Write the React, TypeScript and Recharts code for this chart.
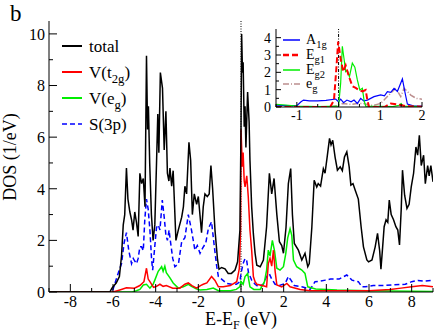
import React from "react";
import { LineChart, Line, XAxis, YAxis, ReferenceLine, Legend } from "recharts";

type Pt = [number, number];

// main panel: energy (eV) vs DOS (1/eV)
const total: Pt[] = [
  [-9, 0], [-6.15, 0], [-6.05, 0.15], [-5.85, 0.35], [-5.7, 0.6], [-5.6, 1.4], [-5.52, 2.6], [-5.45, 3.0],
  [-5.37, 4.8], [-5.3, 3.6], [-5.21, 3.1], [-5.13, 2.8], [-5.06, 2.4], [-4.98, 3.1], [-4.9, 2.7], [-4.82, 2.15],
  [-4.74, 4.6], [-4.66, 4.2], [-4.58, 4.4], [-4.5, 3.3], [-4.43, 9.15], [-4.38, 6.3], [-4.34, 7.2], [-4.28, 5.0],
  [-4.2, 3.0], [-4.12, 2.0], [-4.04, 2.6], [-3.96, 5.0], [-3.9, 6.9], [-3.85, 5.4], [-3.78, 8.5], [-3.68, 7.9],
  [-3.6, 5.5], [-3.52, 7.0], [-3.45, 4.6], [-3.38, 4.3], [-3.33, 4.8], [-3.25, 4.1], [-3.18, 4.7], [-3.05, 2.0],
  [-2.94, 2.4], [-2.78, 2.9], [-2.7, 3.3], [-2.63, 4.1], [-2.55, 3.8], [-2.44, 5.8], [-2.36, 5.1], [-2.28, 3.0],
  [-2.19, 3.8], [-2.08, 3.4], [-2.0, 3.7], [-1.85, 2.3], [-1.77, 3.3], [-1.69, 3.8], [-1.58, 3.7], [-1.49, 3.8],
  [-1.41, 4.9], [-1.33, 4.0], [-1.22, 2.4], [-1.1, 1.25], [-1.03, 0.88], [-0.91, 0.95], [-0.75, 0.9], [-0.6, 0.72],
  [-0.45, 0.72], [-0.28, 0.85], [-0.16, 1.17], [-0.05, 2.4], [0.0, 6.3], [0.03, 10.0], [0.07, 8.5], [0.1, 8.9],
  [0.15, 6.4], [0.19, 7.2], [0.23, 5.6], [0.31, 7.75], [0.38, 6.6], [0.42, 5.1], [0.5, 3.3], [0.58, 2.25],
  [0.66, 1.5], [0.74, 1.04], [0.9, 0.98], [1.05, 1.24], [1.2, 2.53], [1.33, 4.6], [1.44, 3.8], [1.55, 4.4],
  [1.68, 3.0], [1.8, 1.95], [1.91, 1.8], [1.99, 1.5], [2.11, 2.5], [2.22, 4.2], [2.33, 4.78], [2.41, 3.0],
  [2.5, 1.88], [2.69, 1.62], [2.85, 1.24], [3.0, 1.5], [3.13, 0.98], [3.2, 1.1], [3.32, 2.5], [3.43, 4.33],
  [3.55, 4.07], [3.62, 4.2], [3.73, 4.1], [3.86, 4.78], [3.94, 4.6], [4.05, 5.3], [4.15, 5.95], [4.22, 5.7],
  [4.3, 5.88], [4.41, 5.23], [4.52, 4.72], [4.65, 4.85], [4.75, 4.7], [4.85, 5.23], [4.96, 5.43], [5.07, 4.85],
  [5.15, 4.14], [5.25, 4.2], [5.35, 3.95], [5.5, 3.6], [5.63, 2.53], [5.74, 1.75], [5.9, 1.24], [5.98, 1.17],
  [6.14, 1.24], [6.29, 1.75], [6.4, 2.27], [6.5, 1.6], [6.56, 0.88], [6.64, 1.75], [6.71, 2.53], [6.8, 2.8],
  [6.88, 2.7], [6.95, 3.56], [7.04, 3.0], [7.15, 2.8], [7.26, 2.53], [7.35, 2.4], [7.43, 1.82], [7.51, 3.2],
  [7.57, 4.72], [7.67, 3.75], [7.78, 3.24], [7.88, 3.4], [7.98, 4.07], [8.09, 4.6], [8.2, 5.62], [8.28, 5.3],
  [8.36, 6.07], [8.45, 4.9], [8.56, 5.3], [8.64, 4.2], [8.75, 4.9], [8.82, 4.5], [8.9, 4.9], [9.0, 4.27],
];

const vT2g: Pt[] = [
  [-9, 0], [-6.0, 0], [-5.68, 0.08], [-5.37, 0.16], [-5.0, 0.15], [-4.74, 0.25], [-4.55, 0.4], [-4.43, 0.92],
  [-4.35, 0.5], [-4.27, 0.4], [-4.1, 0.18], [-3.96, 0.22], [-3.8, 0.3], [-3.65, 0.22], [-3.5, 0.25], [-3.2, 0.15],
  [-2.87, 0.15], [-2.63, 0.3], [-2.47, 0.35], [-2.3, 0.25], [-2.08, 0.15], [-1.9, 0.25], [-1.77, 0.3], [-1.6, 0.35],
  [-1.38, 0.6], [-1.22, 0.45], [-1.06, 0.2], [-0.83, 0.2], [-0.5, 0.25], [-0.2, 0.4], [-0.08, 0.9], [-0.02, 2.4],
  [0.0, 6.3], [0.03, 5.6], [0.06, 4.85], [0.1, 5.4], [0.15, 4.3], [0.19, 4.07], [0.27, 4.5], [0.34, 3.7],
  [0.42, 2.4], [0.5, 1.62], [0.58, 0.6], [0.66, 0.4], [0.74, 0.3], [1.0, 0.25], [1.2, 0.2], [1.28, 1.1],
  [1.36, 1.3], [1.44, 1.0], [1.52, 1.62], [1.6, 0.8], [1.68, 0.27], [1.91, 0.2], [2.15, 0.33], [2.3, 0.2],
  [2.77, 0.1], [3.24, 0.05], [3.5, 0.05], [6.0, 0.05], [7.0, 0.1], [7.5, 0.15], [8.0, 0.2], [8.5, 0.25], [9.0, 0.2],
];

const vEg: Pt[] = [
  [-9, 0], [-5.1, 0], [-4.9, 0.05], [-4.74, 0.1], [-4.58, 0.27], [-4.43, 0.3], [-4.27, 0.15], [-4.12, 0.3],
  [-4.04, 0.46], [-3.88, 0.8], [-3.72, 0.98], [-3.65, 0.8], [-3.57, 1.0], [-3.5, 0.75], [-3.33, 0.55], [-3.18, 0.35],
  [-2.94, 0.15], [-2.7, 0.2], [-2.47, 0.3], [-2.32, 0.22], [-2.1, 0.12], [-1.92, 0.08], [-1.6, 0.1], [-1.3, 0.15],
  [-1.06, 0.05], [-0.5, 0.05], [-0.22, 0.1], [-0.06, 0.2], [0.0, 0.4], [0.1, 0.3], [0.19, 0.6], [0.31, 0.72],
  [0.42, 0.2], [0.6, 0.1], [0.9, 0.1], [1.1, 0.4], [1.2, 0.85], [1.28, 1.62], [1.36, 1.4], [1.47, 2.0],
  [1.57, 1.6], [1.68, 0.92], [1.83, 0.85], [1.99, 0.98], [2.1, 1.5], [2.19, 2.1], [2.3, 2.45], [2.38, 2.2],
  [2.46, 1.24], [2.61, 0.98], [2.85, 0.85], [3.0, 0.72], [3.13, 0.2], [3.5, 0.12], [4.5, 0.08], [6.0, 0.05], [9.0, 0.02],
];

const s3p: Pt[] = [
  [-9, 0], [-6.1, 0], [-6.0, 0.1], [-5.76, 0.72], [-5.6, 1.1], [-5.48, 1.9], [-5.37, 2.3], [-5.26, 1.6],
  [-5.13, 1.1], [-5.05, 1.3], [-4.98, 1.2], [-4.9, 1.1], [-4.82, 1.3], [-4.74, 1.75], [-4.66, 1.75], [-4.58, 1.6],
  [-4.51, 2.8], [-4.43, 3.6], [-4.35, 3.2], [-4.27, 2.4], [-4.19, 1.24], [-4.14, 0.85], [-4.06, 1.6], [-3.96, 2.5],
  [-3.88, 2.6], [-3.8, 2.4], [-3.69, 3.56], [-3.6, 2.9], [-3.52, 2.2], [-3.45, 2.0], [-3.37, 2.4], [-3.33, 2.1],
  [-3.2, 1.3], [-3.1, 0.98], [-2.93, 1.1], [-2.78, 1.95], [-2.63, 2.1], [-2.47, 3.0], [-2.32, 2.4], [-2.16, 1.62],
  [-2.05, 1.8], [-1.92, 1.5], [-1.8, 1.7], [-1.65, 1.9], [-1.53, 2.46], [-1.38, 2.72], [-1.27, 1.9], [-1.14, 1.0],
  [-1.06, 0.6], [-0.91, 0.5], [-0.67, 0.33], [-0.45, 0.3], [-0.22, 0.3], [-0.05, 0.4], [0.0, 0.72], [0.1, 1.1],
  [0.19, 1.3], [0.27, 1.2], [0.35, 0.75], [0.5, 0.46], [0.66, 0.3], [0.82, 0.2], [1.05, 0.3], [1.2, 0.6],
  [1.33, 0.7], [1.44, 0.5], [1.6, 0.3], [1.8, 0.25], [2.07, 0.33], [2.22, 0.6], [2.35, 0.45], [2.5, 0.25],
  [2.85, 0.2], [3.08, 0.15], [3.24, 0.1], [3.47, 0.4], [3.7, 0.42], [3.96, 0.46], [4.2, 0.5], [4.6, 0.5],
  [4.96, 0.66], [5.2, 0.46], [5.5, 0.4], [5.67, 0.2], [5.82, 0.2], [6.2, 0.25], [6.7, 0.25], [7.2, 0.28],
  [7.7, 0.3], [8.0, 0.4], [8.3, 0.45], [8.6, 0.42], [9.0, 0.46],
];

// inset panel
const a1g: Pt[] = [
  [-1.5, 0.1], [-1.2, 0.08], [-1.0, 0.08], [-0.9, 0.3], [-0.84, 0.4], [-0.7, 0.35], [-0.5, 0.35], [-0.3, 0.38],
  [-0.07, 0.46], [0.0, 0.3], [0.05, 0.45], [0.12, 0.25], [0.2, 0.4], [0.3, 0.3], [0.37, 0.4], [0.45, 0.2],
  [0.53, 0.5], [0.6, 0.35], [0.69, 0.4], [0.85, 0.6], [1.01, 0.7], [1.1, 0.65], [1.17, 0.88], [1.25, 0.85],
  [1.33, 1.08], [1.41, 0.9], [1.53, 1.62], [1.6, 0.75], [1.65, 0.17], [1.81, 0.05], [2.0, 0.05],
];

const eg1: Pt[] = [
  [-1.5, 0.0], [-0.2, 0.0], [-0.11, 0.4], [-0.05, 2.33], [-0.01, 3.77], [0.05, 2.8], [0.11, 2.04], [0.17, 2.4],
  [0.25, 1.75], [0.33, 1.2], [0.41, 1.1], [0.49, 0.98], [0.57, 0.9], [0.65, 0.98], [0.69, 0.4], [0.73, 0.0],
  [1.1, 0.0], [1.25, 0.2], [1.4, 0.15], [1.6, 0.05], [2.0, 0.02],
];

const eg2: Pt[] = [
  [-1.5, 0.15], [-1.2, 0.1], [-1.0, 0.05], [-0.5, 0.02], [0.0, 0.05], [0.05, 1.37], [0.09, 3.5], [0.13, 2.8],
  [0.17, 2.04], [0.21, 2.1], [0.26, 1.75], [0.33, 2.53], [0.39, 2.3], [0.45, 1.56], [0.51, 0.98], [0.57, 1.08],
  [0.61, 0.4], [0.65, 0.05], [1.3, 0.02], [1.45, 0.1], [1.5, 0.2], [1.55, 0.05], [2.0, 0.02],
];

const egIns: Pt[] = [
  [-1.5, 0.02], [-0.2, 0.0], [0.0, 0.1], [0.1, 0.2], [0.3, 0.15], [0.45, 0.2], [0.6, 0.2], [0.75, 0.1],
  [0.85, 0.1], [1.0, 0.2], [1.09, 0.4], [1.25, 0.8], [1.37, 1.08], [1.49, 0.6], [1.57, 1.08], [1.65, 0.9],
  [1.73, 0.69], [1.86, 0.5], [2.0, 0.45],
];

const mainXTicks = [-9, -8, -7, -6, -5, -4, -3, -2, -1, 0, 1, 2, 3, 4, 5, 6, 7, 8, 9];
const mainYTicks = [0, 1, 2, 3, 4, 5, 6, 7, 8, 9, 10];
const insetXTicks = [-1.5, -1, -0.5, 0, 0.5, 1, 1.5, 2];
const insetYTicks = [0, 0.5, 1, 1.5, 2, 2.5, 3, 3.5, 4];

const FONT = "Times New Roman, Liberation Serif, DejaVu Serif, serif";

const rows = (pts: Pt[]) => pts.map(([e, v]) => ({ e, v }));

// inward tick marks, labels only on major ticks
const makeTick =
  (side: string, major: number, len: number, minorLen: number, fs = 0, off = 0) =>
  (p: any) => {
    const { x, y, payload } = p;
    const v = payload.value;
    const isMajor = Math.abs(v / major - Math.round(v / major)) < 1e-6;
    const l = isMajor ? len : minorLen;
    const d: Record<string, number[]> = { bottom: [0, -l], top: [0, l], left: [l, 0], right: [-l, 0] };
    return (
      <g>
        <line x1={x} y1={y} x2={x + d[side][0]} y2={y + d[side][1]} stroke="#000" strokeWidth={1} />
        {fs > 0 && isMajor && side === "bottom" && (
          <text x={x} y={y + off} textAnchor="middle" fontSize={fs} fontFamily={FONT} fill="#000">
            {v}
          </text>
        )}
        {fs > 0 && isMajor && side === "left" && (
          <text x={x - off} y={y} dy="0.36em" textAnchor="end" fontSize={fs} fontFamily={FONT} fill="#000">
            {v}
          </text>
        )}
      </g>
    );
  };

const LegendRows = ({ items, h, w, gap, fs }: any) => (
  <div style={{ fontFamily: FONT, fontSize: fs, color: "#000" }}>
    {items.map((it: any) => (
      <div key={it.key} style={{ display: "flex", alignItems: "center", height: h }}>
        <svg width={w} height={6} style={{ display: "block" }}>
          <line x1={0} y1={3} x2={w} y2={3} stroke={it.color} strokeWidth={it.width} strokeDasharray={it.dash} />
        </svg>
        <span style={{ marginLeft: gap, lineHeight: 1, whiteSpace: "nowrap" }}>
          {it.text}
          {it.sub && <sub style={{ fontSize: "75%", verticalAlign: "-0.4em", lineHeight: 0 }}>{it.sub}</sub>}
          {it.tail}
        </span>
      </div>
    ))}
  </div>
);

const mainItems = [
  { key: "total", text: "total", sub: "", tail: "", color: "#000", width: 2 },
  { key: "t2g", text: "V(t", sub: "2g", tail: ")", color: "#ff0000", width: 2 },
  { key: "eg", text: "V(e", sub: "g", tail: ")", color: "#00ee00", width: 2 },
  { key: "s3p", text: "S(3p)", sub: "", tail: "", color: "#0000ff", width: 1.5, dash: "5 3" },
];

const insetItems = [
  { key: "a1g", text: "A", sub: "1g", tail: "", color: "#0000ff", width: 1.5 },
  { key: "eg1", text: "E", sub: "g1", tail: "", color: "#ff0000", width: 2.5, dash: "6 3" },
  { key: "eg2", text: "E", sub: "g2", tail: "", color: "#00ee00", width: 1.5 },
  { key: "egi", text: "e", sub: "g", tail: "", color: "#bc8f8f", width: 1.5, dash: "6 2 1 2" },
];

export default function App() {
  return (
    <div style={{ position: "absolute", left: 0, top: 0, width: 436, height: 333, background: "#fff" }}>
      <LineChart width={436} height={333} margin={{ top: 21, right: 3, left: 0, bottom: 0 }}>
        <XAxis
          dataKey="e"
          type="number"
          domain={[-9, 9]}
          ticks={mainXTicks}
          interval={0}
          allowDataOverflow
          height={41}
          tickSize={0}
          tickMargin={0}
          axisLine={{ stroke: "#000" }}
          tick={makeTick("bottom", 2, 8, 4, 16, 15)}
          label={{
            content: () => (
              <text x={241} y={325} textAnchor="middle" fontSize={18} fontFamily={FONT} fill="#000">
                E-E<tspan fontSize={12} dy={4}>F</tspan>
                <tspan dy={-4}> (eV)</tspan>
              </text>
            ),
          }}
        />
        <XAxis
          xAxisId="top"
          orientation="top"
          dataKey="e"
          type="number"
          domain={[-9, 9]}
          ticks={mainXTicks}
          interval={0}
          allowDataOverflow
          height={0}
          tickSize={0}
          tickMargin={0}
          axisLine={{ stroke: "#000" }}
          tick={makeTick("top", 2, 8, 4)}
        />
        <YAxis
          type="number"
          domain={[0, 10.5]}
          ticks={mainYTicks}
          interval={0}
          allowDataOverflow
          width={49}
          tickSize={0}
          tickMargin={0}
          axisLine={{ stroke: "#000" }}
          tick={makeTick("left", 2, 8, 4, 16, 4)}
          label={{
            content: () => (
              <text
                x={0}
                y={0}
                transform="translate(16,157) rotate(-90)"
                textAnchor="middle"
                fontSize={18}
                fontFamily={FONT}
                fill="#000"
              >
                DOS (1/eV)
              </text>
            ),
          }}
        />
        <YAxis
          yAxisId="right"
          orientation="right"
          type="number"
          domain={[0, 10.5]}
          ticks={mainYTicks}
          interval={0}
          allowDataOverflow
          width={0}
          tickSize={0}
          tickMargin={0}
          axisLine={{ stroke: "#000" }}
          tick={makeTick("right", 2, 8, 4)}
        />
        <ReferenceLine x={0} stroke="#000" strokeDasharray="1 1.5" strokeWidth={1} />
        <Line data={rows(s3p)} dataKey="v" stroke="#0000ff" strokeWidth={1.5} strokeDasharray="5 3" dot={false} isAnimationActive={false} />
        <Line data={rows(vEg)} dataKey="v" stroke="#00ee00" strokeWidth={1.5} dot={false} isAnimationActive={false} />
        <Line data={rows(vT2g)} dataKey="v" stroke="#ff0000" strokeWidth={1.5} dot={false} isAnimationActive={false} />
        <Line data={rows(total)} dataKey="v" stroke="#000" strokeWidth={1.5} dot={false} isAnimationActive={false} />
        <Legend
          layout="vertical"
          align="center"
          verticalAlign="middle"
          wrapperStyle={{ left: 62, top: 33, width: 100 }}
          content={() => <LegendRows items={mainItems} h={26} w={20} gap={7} fs={17} />}
        />
      </LineChart>

      <div style={{ position: "absolute", left: 10, top: 2, fontFamily: FONT, fontSize: 23, lineHeight: 1 }}>b</div>

      <div style={{ position: "absolute", left: 250, top: 20 }}>
        <LineChart width={180} height={105} margin={{ top: 9, right: 8, left: 0, bottom: 0 }}>
          <XAxis
            dataKey="e"
            type="number"
            domain={[-1.5, 2]}
            ticks={insetXTicks}
            interval={0}
            allowDataOverflow
            height={18}
            tickSize={0}
            tickMargin={0}
            axisLine={{ stroke: "#000" }}
            tick={makeTick("bottom", 1, 5, 3, 14, 13)}
          />
          <XAxis
            xAxisId="top"
            orientation="top"
            dataKey="e"
            type="number"
            domain={[-1.5, 2]}
            ticks={insetXTicks}
            interval={0}
            allowDataOverflow
            height={0}
            tickSize={0}
            tickMargin={0}
            axisLine={{ stroke: "#000" }}
            tick={makeTick("top", 1, 5, 3)}
          />
          <YAxis
            type="number"
            domain={[0, 4.5]}
            ticks={insetYTicks}
            interval={0}
            allowDataOverflow
            width={26}
            tickSize={0}
            tickMargin={0}
            axisLine={{ stroke: "#000" }}
            tick={makeTick("left", 1, 5, 3, 14, 5)}
          />
          <YAxis
            yAxisId="right"
            orientation="right"
            type="number"
            domain={[0, 4.5]}
            ticks={insetYTicks}
            interval={0}
            allowDataOverflow
            width={0}
            tickSize={0}
            tickMargin={0}
            axisLine={{ stroke: "#000" }}
            tick={makeTick("right", 1, 5, 3)}
          />
          <ReferenceLine x={0} stroke="#000" strokeDasharray="3 1.5 1 1.5" strokeWidth={1} />
          <Line data={rows(egIns)} dataKey="v" stroke="#bc8f8f" strokeWidth={1.5} strokeDasharray="6 2 1 2" dot={false} isAnimationActive={false} />
          <Line data={rows(a1g)} dataKey="v" stroke="#0000ff" strokeWidth={1.2} dot={false} isAnimationActive={false} />
          <Line data={rows(eg2)} dataKey="v" stroke="#00ee00" strokeWidth={1.2} dot={false} isAnimationActive={false} />
          <Line data={rows(eg1)} dataKey="v" stroke="#ff0000" strokeWidth={2} strokeDasharray="6 3" dot={false} isAnimationActive={false} />
          <Legend
            layout="vertical"
            align="center"
            verticalAlign="middle"
            wrapperStyle={{ left: 33, top: 13, width: 80 }}
            content={() => <LegendRows items={insetItems} h={14.7} w={17} gap={6} fs={14} />}
          />
        </LineChart>
      </div>
    </div>
  );
}
